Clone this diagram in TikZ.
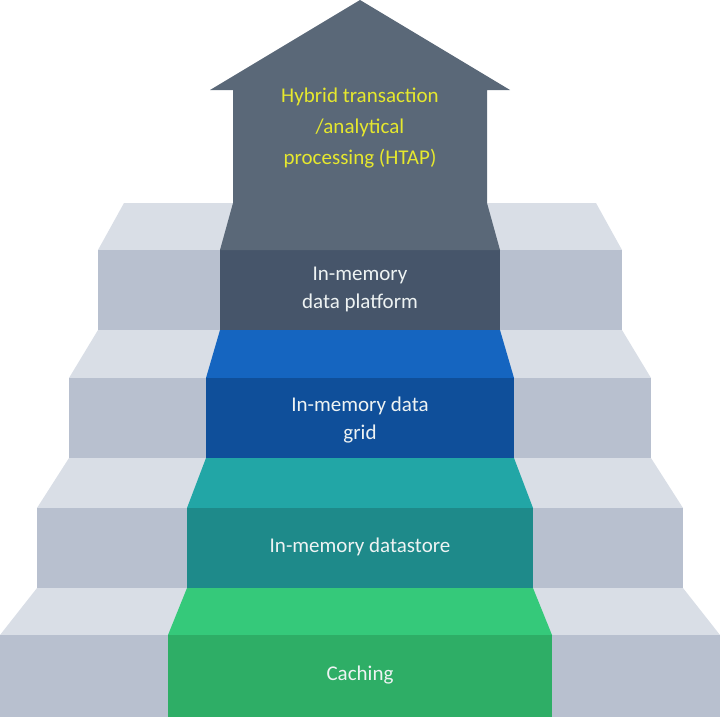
\documentclass[tikz,border=0pt]{standalone}
\usepackage{fontspec}
\setmainfont{Carlito}
\usetikzlibrary{positioning}

\definecolor{treadgray}{HTML}{D9DEE6}
\definecolor{risergray}{HTML}{B8C0CF}
\definecolor{slatetop}{HTML}{5A6878}
\definecolor{slaterise}{HTML}{46556A}
\definecolor{bluetop}{HTML}{1565C0}
\definecolor{bluerise}{HTML}{0F4F9A}
\definecolor{tealtop}{HTML}{22A6A6}
\definecolor{tealrise}{HTML}{1E8A8A}
\definecolor{greentop}{HTML}{35C97A}
\definecolor{greenrise}{HTML}{2EAE66}
\definecolor{htapyellow}{HTML}{E6E82E}
\definecolor{labelwhite}{HTML}{EEF3F3}

\tikzset{
  steplabel/.style={text=labelwhite, align=center, font=\fontsize{21}{28}\selectfont},
  htaplabel/.style={text=htapyellow, align=center, font=\fontsize{21}{31}\selectfont}
}

\begin{document}
\begin{tikzpicture}[x=1pt, y=-1pt]
\useasboundingbox (0,0) rectangle (720,717);

% gray steps: level/tread top/riser top/riser bottom/riser left/tread left
\foreach \k/\tt/\rt/\rb/\rl/\tl in {3/203/250/330/98/124, 2/330/378/458/69/98,
                                   1/458/508/588/37/69, 0/588/635/717/0/37}{
  \fill[treadgray] (\tl,\tt) -- (720-\tl,\tt) -- (720-\rl,\rt) -- (\rl,\rt) -- cycle;
  \fill[risergray] (\rl,\rt) rectangle (720-\rl,\rb);
}

% coloured path up the stairs
\foreach \tt/\rt/\rb/\rl/\tl/\ctop/\crise in {330/378/458/206/220/bluetop/bluerise,
      458/508/588/187/206/tealtop/tealrise, 588/635/717/168/187/greentop/greenrise}{
  \fill[\ctop] (\tl,\tt) -- (720-\tl,\tt) -- (720-\rl,\rt) -- (\rl,\rt) -- cycle;
  \fill[\crise] (\rl,\rt) rectangle (720-\rl,\rb);
}
\fill[slaterise] (220,250) rectangle (500,330);

% arrow on top
\fill[slatetop] (220,250) -- (233,203) -- (233,90) -- (210,90) -- (360,0)
  -- (510,90) -- (487,90) -- (487,203) -- (500,250) -- cycle;

\node[htaplabel] (htap) at (360,128) {Hybrid transaction\\/analytical\\processing (HTAP)};
\node[steplabel] (platform) at (360,289) {In-memory\\data platform};
\node[steplabel] (grid) at (360,420) {In-memory data\\grid};
\node[steplabel] (store) at (360,547) {In-memory datastore};
\node[steplabel] (caching) at (360,675) {Caching};

\end{tikzpicture}
\end{document}
